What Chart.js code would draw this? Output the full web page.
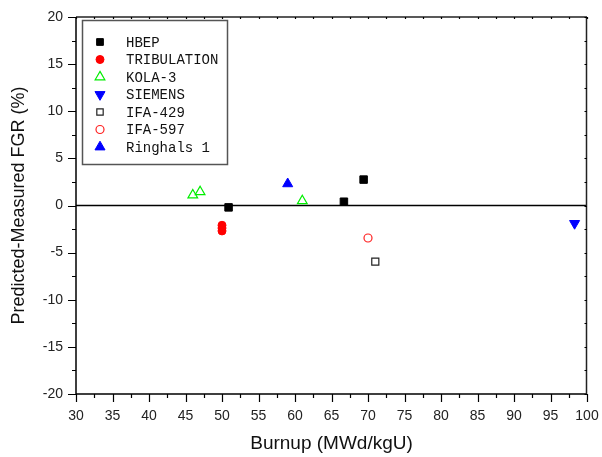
<!DOCTYPE html>
<html>
<head>
<meta charset="utf-8">
<script src="https://cdn.jsdelivr.net/npm/chart.js@4.4.0/dist/chart.umd.min.js"></script>
<style>
  html, body { margin: 0; padding: 0; background: #fff; }
  #wrap { width: 602px; height: 457px; }
</style>
</head>
<body>
<div id="wrap"><canvas id="chart" width="602" height="457"></canvas></div>
<script>
// data (burnup in MWd/kgU, difference in %)
const hbepX = [50.9, 66.7, 69.4];
const hbepY = [-0.2, 0.4, 2.75];
const tribX = [50.0, 50.0, 50.0];
const tribY = [-2.1, -2.4, -2.7];
const kolaX = [46.0, 47.0, 61.0];
const kolaY = [1.1, 1.45, 0.5];
const siemensX = [98.3];
const siemensY = [-1.9];
const ifa429X = [71.0];
const ifa429Y = [-5.95];
const ifa597X = [70.0];
const ifa597Y = [-3.45];
const ringhalsX = [59.0];
const ringhalsY = [2.3];

const xMin = 30, xMax = 100, xStep = 5;
const yMin = -20, yMax = 20, yStep = 5;

const pts = (xs, ys) => xs.map((x, i) => ({ x, y: ys[i] }));

const datasets = [
  { label: 'HBEP', data: pts(hbepX, hbepY), pointStyle: 'rect', pointRadius: 5.3,
    backgroundColor: '#000', borderColor: '#000', borderWidth: 1 },
  { label: 'TRIBULATION', data: pts(tribX, tribY), pointStyle: 'circle', pointRadius: 4,
    backgroundColor: '#ff0000', borderColor: '#ff0000', borderWidth: 1 },
  { label: 'KOLA-3', data: pts(kolaX, kolaY), pointStyle: 'triangle', pointRadius: 5.6,
    backgroundColor: 'rgba(0,0,0,0)', borderColor: '#00ee00', borderWidth: 1.2 },
  { label: 'SIEMENS', data: pts(siemensX, siemensY), pointStyle: 'triangle', pointRotation: 180, pointRadius: 5.8,
    backgroundColor: '#0000ff', borderColor: '#0000ff', borderWidth: 1 },
  { label: 'IFA-429', data: pts(ifa429X, ifa429Y), pointStyle: 'rect', pointRadius: 5,
    backgroundColor: 'rgba(0,0,0,0)', borderColor: '#222', borderWidth: 1.2 },
  { label: 'IFA-597', data: pts(ifa597X, ifa597Y), pointStyle: 'circle', pointRadius: 4,
    backgroundColor: 'rgba(0,0,0,0)', borderColor: '#ff2020', borderWidth: 1.2 },
  { label: 'Ringhals 1', data: pts(ringhalsX, ringhalsY), pointStyle: 'triangle', pointRadius: 5.8,
    backgroundColor: '#0000ff', borderColor: '#0000ff', borderWidth: 1 }
];

// frame, zero line and the small outward ticks of the plot
const framePlugin = {
  id: 'frame',
  beforeDatasetsDraw(chart) {
    const { ctx, chartArea: a, scales: { y } } = chart;
    ctx.save();
    ctx.strokeStyle = '#000';
    ctx.lineWidth = 1.5;
    const y0 = y.getPixelForValue(0);
    ctx.beginPath();
    ctx.moveTo(a.left, y0);
    ctx.lineTo(a.right, y0);
    ctx.stroke();
    ctx.restore();
  },
  afterDraw(chart) {
    const { ctx, chartArea: a, scales: { x, y } } = chart;
    const L = Math.round(a.left), R = Math.round(a.right);
    const T = Math.round(a.top), B = Math.round(a.bottom);
    ctx.save();
    ctx.strokeStyle = '#000';
    ctx.lineWidth = 1.5;
    ctx.beginPath();
    ctx.moveTo(L, T);
    ctx.lineTo(L, B);
    ctx.lineTo(R, B);
    ctx.stroke();
    // top and right sides of the frame
    ctx.strokeStyle = '#222';
    ctx.lineWidth = 1.5;
    ctx.beginPath();
    ctx.moveTo(L, T);
    ctx.lineTo(R, T);
    ctx.stroke();
    ctx.beginPath();
    ctx.moveTo(R - 0.5, T);
    ctx.lineTo(R - 0.5, B);
    ctx.stroke();

    ctx.strokeStyle = '#000';
    ctx.lineWidth = 1.2;
    ctx.beginPath();
    for (let v = xMin; v <= xMax; v += xStep / 2) {
      const px = Math.round(x.getPixelForValue(v)) + 0.5;
      const major = v % xStep === 0;
      ctx.moveTo(px, B);
      ctx.lineTo(px, B + (major ? 8 : 4));
      ctx.moveTo(px, T);
      ctx.lineTo(px, T + 2);
    }
    for (let v = yMin; v <= yMax; v += yStep / 2) {
      const py = Math.round(y.getPixelForValue(v)) + 0.5;
      const major = v % yStep === 0;
      ctx.moveTo(L, py);
      ctx.lineTo(L - (major ? 8 : 4), py);
      ctx.moveTo(R, py);
      ctx.lineTo(R - 2.5, py);
    }
    ctx.stroke();

    // legend box inside the plot
    const lx = 82.5, ly = 20.5, lw = 145, lh = 144;
    ctx.fillStyle = '#fff';
    ctx.fillRect(lx, ly, lw, lh);
    ctx.strokeStyle = '#555';
    ctx.lineWidth = 1.5;
    ctx.strokeRect(lx, ly, lw, lh);
    ctx.font = '14px "Liberation Mono", monospace';
    ctx.textBaseline = 'middle';
    chart.data.datasets.forEach((ds, i) => {
      const cy = 42 + i * 17.5;
      ctx.fillStyle = ds.backgroundColor;
      ctx.strokeStyle = ds.borderColor;
      ctx.lineWidth = ds.borderWidth;
      Chart.helpers.drawPoint(ctx, {
        pointStyle: ds.pointStyle,
        rotation: ds.pointRotation || 0,
        radius: ds.pointStyle === 'rect' ? ds.pointRadius * 0.9 : ds.pointRadius,
        borderWidth: ds.borderWidth
      }, 100, cy);
      ctx.fillStyle = '#111';
      ctx.fillText(ds.label, 126, cy + 1);
    });
    ctx.restore();
  }
};

new Chart(document.getElementById('chart'), {
  type: 'scatter',
  data: { datasets },
  options: {
    responsive: false,
    animation: false,
    devicePixelRatio: 1,
    layout: { padding: { top: 17, right: 15, left: 0, bottom: 0 } },
    plugins: { legend: { display: false }, tooltip: { enabled: false } },
    scales: {
      x: {
        type: 'linear', min: xMin, max: xMax,
        afterFit: s => { s.height = 63; s.paddingLeft = 0; s.paddingRight = 0; },
        grid: { display: false, drawTicks: false },
        border: { display: false },
        ticks: { stepSize: xStep, padding: 14, color: '#222',
                 font: { family: '"Liberation Sans", Arial, sans-serif', size: 14 } },
        title: { display: true, text: 'Burnup (MWd/kgU)', color: '#111',
                 padding: { top: 0, bottom: 2 },
                 font: { family: '"Liberation Sans", Arial, sans-serif', size: 19 } }
      },
      y: {
        type: 'linear', min: yMin, max: yMax,
        afterFit: s => { s.width = 76; s.paddingTop = 0; s.paddingBottom = 0; },
        grid: { display: false, drawTicks: false },
        border: { display: false },
        ticks: { stepSize: yStep, padding: 13, color: '#222',
                 font: { family: '"Liberation Sans", Arial, sans-serif', size: 14 } },
        title: { display: true, text: 'Predicted-Measured FGR (%)', color: '#111',
                 padding: { top: 8, bottom: 0 },
                 font: { family: '"Liberation Sans", Arial, sans-serif', size: 18 } }
      }
    }
  },
  plugins: [framePlugin]
});
</script>
</body>
</html>
